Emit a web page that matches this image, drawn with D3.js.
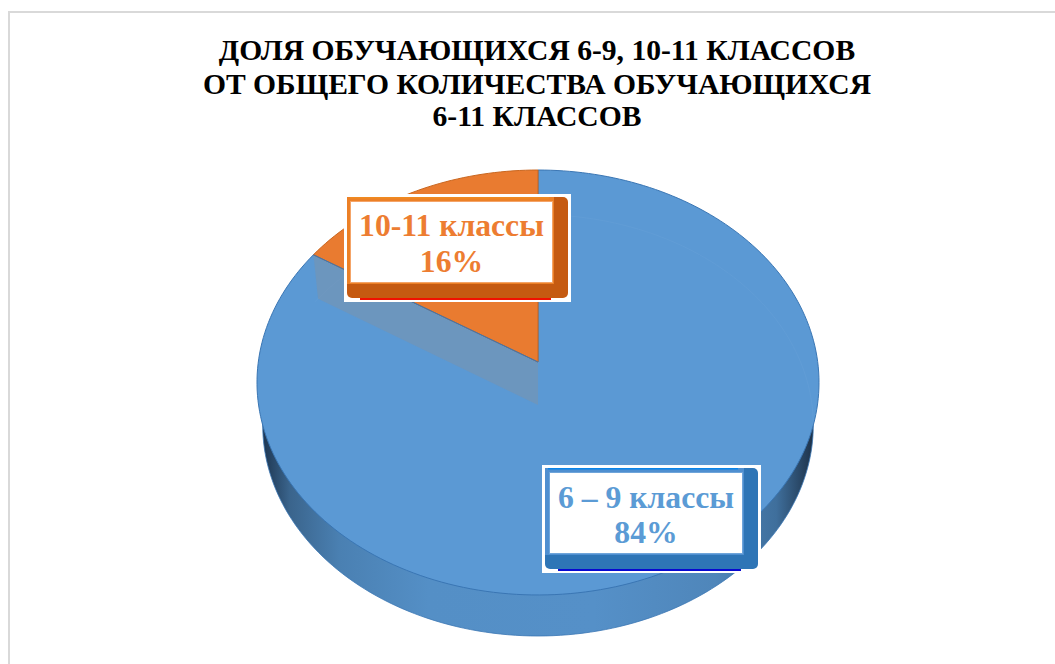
<!DOCTYPE html>
<html>
<head>
<meta charset="utf-8">
<script src="https://cdn.jsdelivr.net/npm/d3@7"></script>
<style>
  html, body { margin: 0; padding: 0; background: #fff; }
  text { font-family: "Liberation Serif", serif; font-weight: bold; }
</style>
</head>
<body>
<svg id="chart" width="1055" height="664"></svg>
<script>
const titleLines = ["ДОЛЯ ОБУЧАЮЩИХСЯ 6-9, 10-11 КЛАССОВ", "ОТ ОБЩЕГО КОЛИЧЕСТВА ОБУЧАЮЩИХСЯ", "6-11 КЛАССОВ"];
const classes = ["6 – 9 классы", "10-11 классы"];
const shares = [84, 16];

const svg = d3.select("#chart");
const defs = svg.append("defs");

// chart frame
svg.append("rect")
  .attr("x", 9).attr("y", 12).attr("width", 1060).attr("height", 670)
  .attr("fill", "#fff").attr("stroke", "#d9d9d9").attr("stroke-width", 2);

svg.append("g").selectAll("text")
  .data(titleLines)
  .enter()
  .append("text")
  .attr("x", 537)
  .attr("y", (d, i) => [60, 94, 126][i])
  .attr("text-anchor", "middle")
  .attr("font-size", 29.6)
  .attr("fill", "#000")
  .text(d => d);

// tilted disc: perspective keeps the centre above the middle of the ellipse
const k = 0.0965;
const topPlane = { cx: 538, cy: 362, a: 279.7, b: 210.5 };
const basePlane = { cx: 538, cy: 405, a: 274, b: 208.7 };

const project = (plane, angle, r = 1) => {
  const x = r * Math.sin(angle), y = r * Math.cos(angle);
  const w = 1 + k * y;
  return [plane.cx + plane.a * x / w, plane.cy - plane.b * y / w];
};

const line = d3.line();
const arcPoints = (plane, a0, a1) => {
  const n = Math.max(2, Math.ceil((a1 - a0) * 40));
  return d3.range(n + 1).map(i => project(plane, a0 + (a1 - a0) * i / n));
};

const pie = d3.pie().sort(null).value(d => d);
const slices = pie(shares);
const colors = ["#5B99D4", "#E97B30"];
const rimColors = ["#3a76b4", "#c9661f"];

// side wall
const sideGrad = defs.append("linearGradient").attr("id", "side")
  .attr("gradientUnits", "userSpaceOnUse")
  .attr("x1", 262).attr("x2", 815).attr("y1", 0).attr("y2", 0);
[[0, "#1d3550"], [0.05, "#3a648c"], [0.14, "#4a80b2"], [0.3, "#548fc6"], [0.6, "#5590c8"], [0.82, "#4f86ba"], [0.93, "#3f6f9c"], [1, "#1c2f45"]]
  .forEach(s => sideGrad.append("stop").attr("offset", s[0]).attr("stop-color", s[1]));

svg.append("path")
  .attr("d", line(arcPoints(basePlane, 0, 2 * Math.PI)) + "Z")
  .attr("fill", "url(#side)")
  .attr("stroke", "#3a76b4")
  .attr("stroke-width", 0.8);

// top face
svg.append("g").selectAll("path")
  .data(slices)
  .enter()
  .append("path")
  .attr("d", d => line([[topPlane.cx, topPlane.cy], ...arcPoints(topPlane, d.startAngle, d.endAngle)]) + "Z")
  .attr("fill", (d, i) => colors[i])
  .attr("stroke", (d, i) => rimColors[i])
  .attr("stroke-width", 1);

// back rim of the base seen through the top
svg.append("path")
  .attr("d", line(arcPoints(basePlane, slices[1].startAngle - 0.02, 2 * Math.PI + 1.7)))
  .attr("fill", "none")
  .attr("stroke", "#7fb0de")
  .attr("stroke-opacity", 0.15)
  .attr("stroke-width", 1);

// inner wall of the small slice seen through the top
const cut = slices[1].startAngle;
svg.append("path")
  .attr("d", line([
    [topPlane.cx, topPlane.cy],
    project(topPlane, cut),
    project(basePlane, cut),
    [basePlane.cx, basePlane.cy]
  ]) + "Z")
  .attr("fill", "#8a9099")
  .attr("fill-opacity", 0.36);

svg.append("path")
  .attr("d", line([[topPlane.cx, topPlane.cy], project(topPlane, cut)]))
  .attr("stroke", "#3a76b4")
  .attr("stroke-width", 1);

// labels
const labels = [
  { name: classes[1], share: shares[1], x: 344, y: 194, w: 227, h: 108, ix: 7, iy: 8, iw: 201, ih: 80, textY: 42, text: "#ED7D31", light: "#F4A468", edge: "#EC8026", dark: "#C55A11", base: "#f01000", top: "#F08A20" },
  { name: classes[0], share: shares[0], x: 542, y: 465, w: 219, h: 108, ix: 8, iy: 8, iw: 192, ih: 80, textY: 43, text: "#5B9BD5", light: "#6FA5DA", edge: "#4F8FD0", dark: "#2E75B6", base: "#0808d0", top: "#0A84E8" }
];

const box = svg.append("g").selectAll("g")
  .data(labels)
  .enter()
  .append("g")
  .attr("transform", d => `translate(${d.x},${d.y})`);

box.append("rect")
  .attr("width", d => d.w).attr("height", d => d.h)
  .attr("fill", "#fff");
box.append("rect")
  .attr("x", 16).attr("y", d => d.h - 16)
  .attr("width", d => d.w - 36).attr("height", 14)
  .attr("fill", d => d.base);
box.append("rect")
  .attr("x", 3).attr("y", 3)
  .attr("width", d => d.w - 6).attr("height", d => d.h - 7)
  .attr("rx", 5)
  .attr("fill", d => d.dark);
box.append("rect")
  .attr("x", 3).attr("y", 3)
  .attr("width", d => d.ix + d.iw - 1).attr("height", d => d.iy + d.ih - 1)
  .attr("fill", d => d.edge);
box.append("rect")
  .attr("x", 6).attr("y", 3)
  .attr("width", d => d.iw - 2).attr("height", 1.5)
  .attr("fill", d => d.top);
// light border is the outline, white is the label face
box.append("rect")
  .attr("x", d => d.ix - 1).attr("y", d => d.iy - 1)
  .attr("width", d => d.iw + 2).attr("height", d => d.ih + 2)
  .attr("fill", d => d.light);
box.append("rect")
  .attr("x", d => d.ix).attr("y", d => d.iy)
  .attr("width", d => d.iw).attr("height", d => d.ih)
  .attr("fill", "#fff");

box.append("text")
  .attr("x", d => d.ix + d.iw / 2)
  .attr("y", d => d.textY)
  .attr("text-anchor", "middle")
  .attr("font-size", 31.7)
  .attr("fill", d => d.text)
  .text(d => d.name);
box.append("text")
  .attr("x", d => d.ix + d.iw / 2)
  .attr("y", 78)
  .attr("text-anchor", "middle")
  .attr("font-size", 31.7)
  .attr("fill", d => d.text)
  .text(d => d.share + "%");
</script>
</body>
</html>
